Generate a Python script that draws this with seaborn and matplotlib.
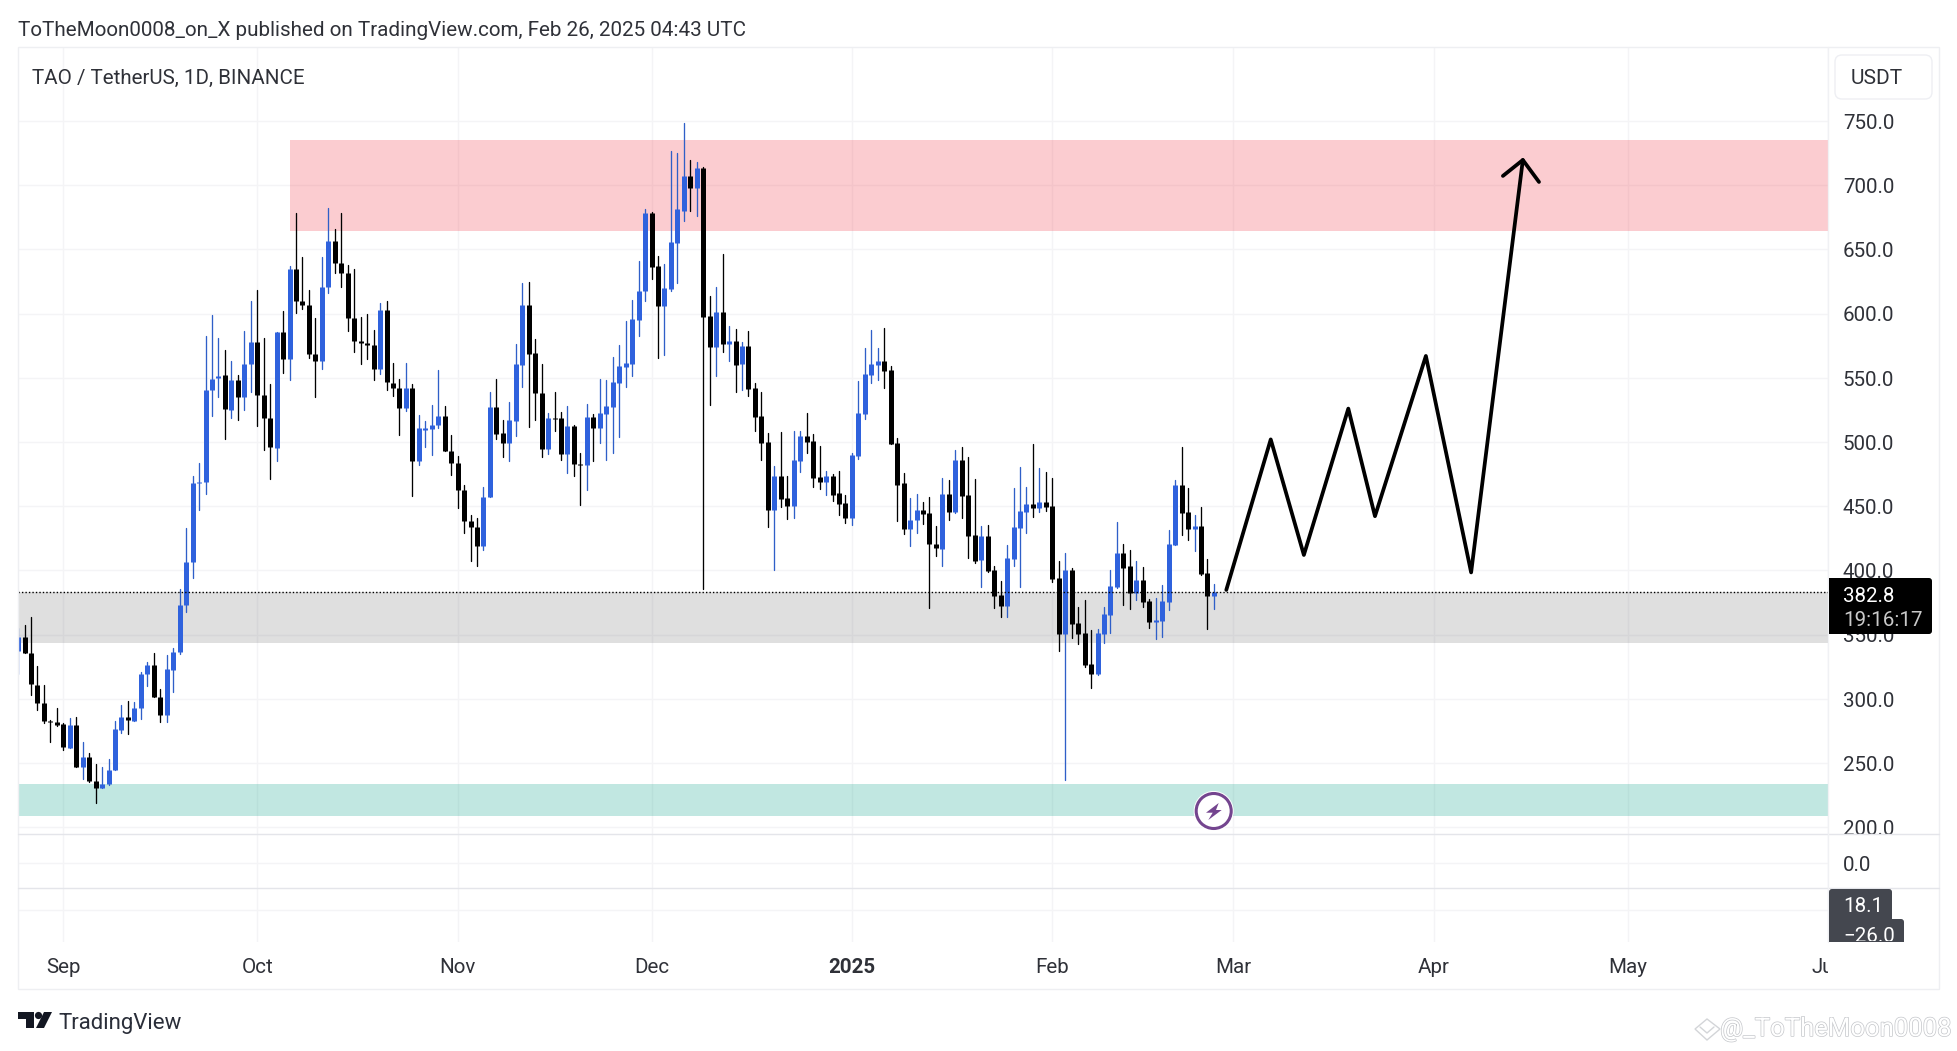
import numpy as np
import pandas as pd
import seaborn as sns
import matplotlib.pyplot as plt
from matplotlib.patches import Circle, FancyBboxPatch, Polygon, Rectangle
from matplotlib.patheffects import withStroke
from matplotlib.transforms import Affine2D, Bbox

W, H = 1958, 1051

# daily candles from 2024-08-25 on
opens = [337.3, 348, 335.5, 310.5, 297, 282.9, 281.7, 280.2, 262, 279.5,
         246.7, 254.5, 236.2, 230.3, 234, 244.8, 275.8, 286.2, 282.9, 292.6,
         319.1, 326.1, 301.1, 287, 322.8, 336.6, 372.8, 406.4, 468.3, 468.7,
         540.3, 550, 551.9, 525, 548.5, 535.1, 560.4, 577.6, 536.6, 519,
         495.1, 585.4, 564.9, 634.7, 610.1, 607, 568.7, 563, 620.9, 656.3,
         639.5, 631.7, 596.6, 578.7, 577.2, 575.7, 557.1, 602.6, 546.2, 542.2,
         526.5, 542.2, 485.1, 509.7, 510.1, 513.4, 520.5, 492.9, 484, 462.7,
         438.4, 433.6, 419, 457.1, 526.9, 507, 499.2, 516.4, 560, 606.5,
         569.1, 538.4, 494.3, 518.5, 518.5, 490.4, 512.2, 482.6, 481.9, 519.2,
         510.7, 521.6, 527, 545.7, 558.2, 560.5, 595, 617.4, 678.1, 636.8,
         605.7, 618.9, 654.8, 679.9, 706.9, 697.6, 713.2, 597.9, 573.8, 601,
         576.1, 578.4, 560.5, 574.5, 541.8, 520, 499.8, 446.8, 473.3, 456.2,
         449.9, 485, 504.4, 500.6, 472.5, 468.6, 473.3, 460, 452.3, 440.6,
         488.9, 521.6, 552, 559.7, 562.9, 555.9, 499, 467.8, 432, 439,
         446.8, 444.5, 420.3, 416.4, 459.3, 445.5, 485.6, 458.6, 427.4, 407.9,
         426.6, 400.2, 380.7, 372.1, 408.7, 432.8, 445.3, 451.5, 448.4, 453.1,
         450, 394, 350.3, 400.2, 358.9, 351.1, 327, 319.2, 350.3, 365.1,
         386.9, 413.4, 403.3, 382.2, 392.4, 376, 359.6, 360.4, 375.2, 419.6,
         466.3, 445.3, 432.1, 434.4, 397.8, 379.9]
highs = [354.9, 357.1, 363.4, 325.8, 310.8, 283.5, 292.6, 281.4, 285.1, 286.2,
         266.4, 257.5, 249.3, 246.7, 253, 282.5, 294.8, 298.5, 297.8, 320.5,
         328.4, 335.8, 307.9, 334, 339.6, 385.8, 433.2, 473.5, 483.9, 582.5,
         598.9, 581, 571.3, 563, 552.2, 586.2, 609.7, 618.3, 580.6, 544.8,
         585.8, 602.2, 636.9, 678.3, 644.4, 618.3, 596.3, 644, 682.1, 665.7,
         678.3, 638.1, 634.7, 597, 599.6, 586.9, 608.2, 610.1, 561.2, 548.9,
         561.6, 545.5, 520.9, 516.4, 529.1, 556, 528, 505.2, 488.8, 466.8,
         442.9, 441, 465.3, 538.8, 548.8, 516.9, 530.9, 576.1, 623.6, 624.4,
         580, 560.5, 522.9, 539.2, 523.4, 527.8, 513, 491.7, 529.4, 521.6,
         548.8, 548, 565.9, 575.3, 594.3, 610.4, 640.7, 681.2, 679, 644.6,
         638.4, 726.4, 725.4, 748.5, 719.4, 718.4, 713.9, 613.7, 620.5, 646.2,
         590.1, 587.8, 577.7, 586.2, 545.7, 538.7, 506.8, 481.3, 507.8, 473.3,
         508.3, 508.3, 522.3, 506, 496.6, 477.2, 474.8, 477.2, 458.5, 491.2,
         547.3, 573, 587, 573, 589.1, 558.9, 502.9, 476.1, 456.2, 459.3,
         453, 456.9, 434.3, 471.7, 470.2, 494.1, 495.7, 488.1, 471, 434.4,
         435.2, 403.3, 391.6, 419.6, 464.5, 480.4, 464.8, 498.3, 479.6, 476.5,
         471.8, 407.2, 413.4, 401.7, 371.3, 376.8, 353.4, 354.2, 371.3, 400.2,
         437.5, 420.4, 415.7, 407.2, 402.5, 377.6, 378.3, 388.5, 431.3, 470.2,
         495.9, 464, 443, 449.2, 408.7, 389.2]
lows = [319.4, 335.5, 302.6, 291.4, 281, 266.4, 279.1, 260.5, 262, 246.7,
        237.7, 235.5, 219.1, 230.3, 232.9, 244.8, 273.2, 272.4, 282.9, 284,
        309.7, 301.1, 282.1, 281.7, 305.2, 335.1, 367.2, 394.1, 447, 459.7,
        520.2, 535.1, 502.2, 518.7, 517.5, 525, 538.8, 512.3, 493.7, 471.3,
        485.1, 553.4, 548.1, 600.7, 603.7, 565.7, 535.4, 557.1, 616, 631.7,
        620.9, 586.2, 570.1, 560.8, 564.6, 548.5, 553, 540.7, 535.8, 505.6,
        523.9, 458.2, 482.1, 495.9, 489.9, 510.8, 492.9, 474.3, 448.9, 429.1,
        407.1, 403.4, 415.7, 457.1, 502.2, 488.4, 485.2, 504.4, 543.1, 511.4,
        517.2, 488.4, 490.4, 508.3, 486, 475.6, 473.5, 450.7, 462.6, 485,
        499.5, 485.8, 491.7, 503.7, 542.6, 551.2, 582.3, 609.6, 626.7, 565.2,
        567.5, 617.4, 623.6, 671.9, 680.2, 675.8, 385.3, 528.6, 551.2, 569.9,
        562.9, 538.7, 540.3, 535.6, 508.3, 485.8, 433.6, 400.1, 449.7, 439.8,
        440.6, 476.4, 491.2, 464.7, 463.2, 458.5, 453.8, 442.9, 436.7, 435.1,
        486.5, 517.7, 545.7, 548, 541.8, 498.2, 438.2, 428.1, 419, 428.9,
        435.9, 370.5, 411.2, 403.5, 439.3, 445, 440.6, 409.7, 406.1, 386.9,
        398.6, 370.5, 363.5, 363.5, 403.3, 386.9, 429, 441.4, 445.3, 446.1,
        390.8, 337.1, 236.6, 347.2, 342.5, 324.6, 308.2, 318.4, 343.3, 351.1,
        386, 372.9, 369.8, 376.8, 371.3, 355.2, 346.4, 348, 369, 419.6,
        427.4, 423.5, 415.2, 396.3, 354.2, 369.8]
closes = [348, 335.5, 311.2, 297, 282.5, 281.7, 279.9, 262.7, 279.5, 246.7,
          254.5, 236.2, 230.3, 234, 244.8, 276.1, 286.2, 283.2, 292.6, 319.4,
          326.1, 301.1, 287, 323.2, 336.6, 373.1, 406.4, 467.9, 469, 540.3,
          549.3, 551.1, 525.7, 548.5, 535.1, 560.4, 577.6, 536.6, 519, 496.3,
          585.4, 564.9, 634.7, 610.1, 606.7, 568.7, 563, 620.9, 656.3, 639.5,
          631.7, 596.6, 578.7, 577.2, 575.7, 557.1, 602.6, 546.6, 542.2, 526.5,
          542.2, 485.1, 510.5, 510.5, 513.4, 520.5, 492.9, 484, 462.7, 438.4,
          433.6, 419, 457.1, 526.9, 506.3, 499.2, 516.9, 560.5, 606.5, 568.3,
          537.9, 494.3, 518.5, 517.7, 490.4, 512.2, 482.6, 481.9, 519.2, 510.7,
          522.3, 527.8, 546.5, 558.9, 561.3, 595.6, 617.4, 678.1, 636.3, 605.9,
          619.7, 655.5, 681.2, 706.9, 697.6, 713.2, 597.1, 573.8, 601, 576.1,
          578.4, 559.7, 574.5, 541.1, 519.2, 499, 446.8, 473.3, 455.4, 449.9,
          485.8, 504.4, 499.8, 471.7, 468.6, 473.3, 458.5, 451.5, 440.6, 489.6,
          522.3, 552.7, 560.5, 562.9, 555.1, 498.2, 466.3, 432, 439, 446.8,
          443.7, 420.3, 417.2, 459.3, 445.5, 485.6, 458, 426.6, 407.2, 426.6,
          399.4, 379.9, 372.1, 409.5, 433.6, 446.1, 451.5, 448.4, 453.1, 449.2,
          393.1, 350.3, 400.2, 358.1, 350.3, 326.2, 319.2, 351.1, 365.9, 387.7,
          413.4, 401.7, 382.2, 392.4, 375.2, 359.6, 361.2, 376, 420.4, 466.3,
          444.5, 432.1, 434.4, 397, 379.9, 382.8]

# projected path drawn by hand on the chart
path_dates = ["2025-02-27 22:00", "2025-03-06 19:00", "2025-03-11 22:00",
              "2025-03-18 19:00", "2025-03-22 22:00", "2025-03-30 19:00",
              "2025-04-06 19:00", "2025-04-14 19:00"]
path_prices = [384.8, 502.0, 412.0, 526.0, 442.2, 567.0, 398.4, 719.6]
head_dates = ["2025-04-11 17:00", "2025-04-14 19:00", "2025-04-17 07:00"]
head_prices = [707.2, 719.6, 702.5]

month_dates = ["2024-09-01", "2024-10-01", "2024-11-01", "2024-12-01", "2025-01-01",
               "2025-02-01", "2025-03-01", "2025-04-01", "2025-05-01", "2025-06-01"]
month_labels = ["Sep", "Oct", "Nov", "Dec", "2025", "Feb", "Mar", "Apr", "May", "Jun"]
price_ticks = [200, 250, 300, 350, 400, 450, 500, 550, 600, 650, 700, 750]

BLUE = "#2f62dd"
BLACK = "#000000"
GRID = "#f4f4f6"
LINE = "#e4e5ea"
TXT = "#2f3138"
FS = 14.8

sns.set_theme(style="white")
plt.rcParams["font.family"] = ["Roboto", "DejaVu Sans"]

# table of candles, one row per end of each wick / body
dates = pd.date_range("2024-08-25", periods=len(opens))
df = pd.DataFrame({"date": dates, "open": opens, "high": highs, "low": lows, "close": closes})
df["side"] = np.where(df["close"] >= df["open"], "up", "down")
wicks = df.melt(id_vars=["date", "side"], value_vars=["high", "low"], value_name="price")
bodies = df.melt(id_vars=["date", "side"], value_vars=["open", "close"], value_name="price")

fig = plt.figure(figsize=(W / 100, H / 100), dpi=100, facecolor="white")
pix = Affine2D().scale(1, -1).translate(0, H)  # top-left pixel coordinates


def panel(top, bottom, sharex=None):
    return fig.add_axes([18 / W, 1 - bottom / H, (1828 - 18) / W, (bottom - top) / H], sharex=sharex)


ax = panel(47, 834)
ax2 = panel(834, 888, sharex=ax)
ax3 = panel(888, 942, sharex=ax)
ax_time = panel(942, 989, sharex=ax)

# zones
start = pd.Timestamp("2024-08-25")
end = pd.Timestamp("2025-06-01")
ax.fill_between([pd.Timestamp("2024-10-06"), end], 664.5, 735.3, color="#f23645", alpha=0.25, lw=0, zorder=1)
ax.fill_between([start, end], 343.7, 382.8, color="#808080", alpha=0.25, lw=0, zorder=1)
ax.fill_between([start, end], 209.0, 233.6, color="#22ab94", alpha=0.28, lw=0, zorder=1)

# candles
sns.lineplot(data=wicks, x="date", y="price", hue="side", palette={"up": "#2f5fc8", "down": BLACK},
             units="date", estimator=None, sort=False, linewidth=0.95, legend=False, ax=ax, zorder=3)
sns.lineplot(data=bodies, x="date", y="price", hue="side", palette={"up": BLUE, "down": BLACK},
             units="date", estimator=None, sort=False, linewidth=3.6, legend=False, ax=ax, zorder=4,
             solid_capstyle="butt")

ax.axhline(closes[-1], color="black", lw=1, ls=(0, (1, 1.5)), zorder=5)

# hand drawn projection
path = pd.DataFrame({"date": pd.to_datetime(path_dates), "price": path_prices})
head = pd.DataFrame({"date": pd.to_datetime(head_dates), "price": head_prices})
sns.lineplot(data=path, x="date", y="price", color="black", linewidth=2.7, sort=False,
             estimator=None, ax=ax, zorder=6)
sns.lineplot(data=head, x="date", y="price", color="black", linewidth=2.7, sort=False,
             estimator=None, ax=ax, zorder=6)

ax.set_xlim(pd.Timestamp("2024-08-24 23:50"), pd.Timestamp("2025-06-01"))
ax.set_ylim(194.7, 807.6)
ax.set_xlabel("")
ax.set_ylabel("")
ax2.set_ylim(-25, 29)
ax3.set_ylim(-32, 22)

ticks = pd.to_datetime(month_dates)
for a in (ax, ax2, ax3):
    a.set_xticks(ticks)
    a.grid(True, color=GRID, lw=1)
    a.set_axisbelow(True)
    a.tick_params(length=0, labelbottom=False, labelleft=False)
    for s in a.spines.values():
        s.set_visible(False)

# price scale on the right
nudge = Affine2D().translate(-1.2, -0.4)
ax.yaxis.tick_right()
ax.set_yticks(price_ticks, [f"{p:.1f}" for p in price_ticks])
ax.tick_params(axis="y", labelright=True, labelsize=FS, labelcolor=TXT, pad=11.5)
clip = Bbox([[1828, H - 834], [1939, H - 47]])
for lab in ax.get_yticklabels():
    lab.set_ha("left")
    lab.set_clip_on(True)
    lab.set_clip_box(clip)
    lab.set_transform(lab.get_transform() + nudge)

ax2.yaxis.tick_right()
ax2.set_yticks([0], ["0.0"])
ax2.tick_params(axis="y", labelright=True, labelsize=FS, labelcolor=TXT, pad=11.5)
for lab in ax2.get_yticklabels():
    lab.set_transform(lab.get_transform() + nudge)
ax3.set_yticks([0], [""])

# time scale
ax_time.set_xticks(ticks, month_labels)
ax_time.set_yticks([])
ax_time.set_xlabel("")
ax_time.tick_params(length=0, labelsize=FS, labelcolor=TXT, pad=-22.5)
for s in ax_time.spines.values():
    s.set_visible(False)
time_clip = Bbox([[18, H - 989], [1828, H - 942]])
for lab in ax_time.get_xticklabels():
    lab.set_clip_on(True)
    lab.set_clip_box(time_clip)
    if lab.get_text() == "2025":
        lab.set_fontweight("bold")


def box(x0, y0, x1, y1, color, rad=0, edge="none", lw=0, zorder=10):
    if rad:
        p = FancyBboxPatch((x0 + rad, y0 + rad), x1 - x0 - 2 * rad, y1 - y0 - 2 * rad,
                           boxstyle=f"round,pad={rad},rounding_size={rad}",
                           fc=color, ec=edge, lw=lw, transform=pix, zorder=zorder)
    else:
        p = Rectangle((x0, y0), x1 - x0, y1 - y0, fc=color, ec=edge, lw=lw, transform=pix, zorder=zorder)
    fig.add_artist(p)
    return p


def label(x, y, s, size=FS, color=TXT, zorder=11, **kw):
    return fig.text(x, y, s, transform=pix, fontsize=size, color=color, va="center", zorder=zorder, **kw)


# frame lines
box(18, 47, 1939, 989, "none", edge="#eeeff2", lw=1, zorder=8)
for y in (834, 888):
    fig.add_artist(plt.Line2D([18, 1939], [y, y], color=LINE, lw=1, transform=pix, zorder=8))
fig.add_artist(plt.Line2D([1828, 1828], [47, 942], color="#f0f1f4", lw=1, transform=pix, zorder=8))

# price tags
box(1829, 578, 1832, 634, BLACK)
box(1829, 578, 1932, 634, BLACK, rad=3)
label(1843, 596, "382.8", color="white")
label(1843, 621, "19:16:17", color="#c9c9c9")

box(1829, 889, 1892, 942, "#44474f", rad=3)
box(1829, 919, 1904, 942, "#44474f", rad=3)
box(1829, 935, 1904, 942, "#44474f")
label(1843, 907, "18.1", color="white")
t = label(1843, 936, "\u221226.0", color="white")
t.set_clip_box(Bbox([[1829, H - 941], [1904, H - 919]]))
t.set_clip_on(True)

box(1835, 55, 1932, 99, "white", rad=7, edge="#eeeff3", lw=1)
label(1851, 78, "USDT", size=15)

# lightning badge
fig.add_artist(Circle((1213.7, 811), 20, fc="white", ec="none", transform=pix, zorder=9))
fig.add_artist(Circle((1213.7, 811), 17.5, fc="white", ec="#74458f", lw=2.2, transform=pix, zorder=10))
fig.add_artist(Polygon([(1218.7, 803), (1206, 812.7), (1212.7, 812.7), (1208.3, 820), (1221.7, 810), (1216, 810)],
                       closed=True, fc="#74458f", ec="none", transform=pix, zorder=11))

# header and footer
label(18, 30, "ToTheMoon0008_on_X published on TradingView.com, Feb 26, 2025 04:43 UTC", size=14.9)
label(32, 78, "TAO / TetherUS, 1D, BINANCE", size=14.8)

fig.add_artist(Polygon([(18, 1012), (34, 1012), (34, 1028), (26, 1028), (26, 1019), (18, 1019)],
                       closed=True, fc="#131722", ec="none", transform=pix, zorder=11))
fig.add_artist(Circle((38.5, 1015.5), 3.6, fc="#131722", ec="none", transform=pix, zorder=11))
fig.add_artist(Polygon([(44, 1012), (52, 1012), (44, 1028), (36, 1028)],
                       closed=True, fc="#131722", ec="none", transform=pix, zorder=11))
label(58, 1024, "TradingView", size=16, color="#2a2e39")

wm = label(1952, 1029, "@_ToTheMoon0008", size=18.5, color="white", ha="right", zorder=12)
wm.set_path_effects([withStroke(linewidth=1.0, foreground="#c4c6ca")])
fig.add_artist(Polygon([(1695, 1029), (1707, 1019), (1720, 1029), (1707, 1040)], closed=True,
                       fc="white", ec="#d3d5d8", lw=1, transform=pix, zorder=11))
fig.add_artist(plt.Line2D([1700, 1707, 1714], [1027, 1033, 1027], color="#d3d5d8", lw=1, transform=pix, zorder=12))

fig.savefig("out.png", dpi=100)
